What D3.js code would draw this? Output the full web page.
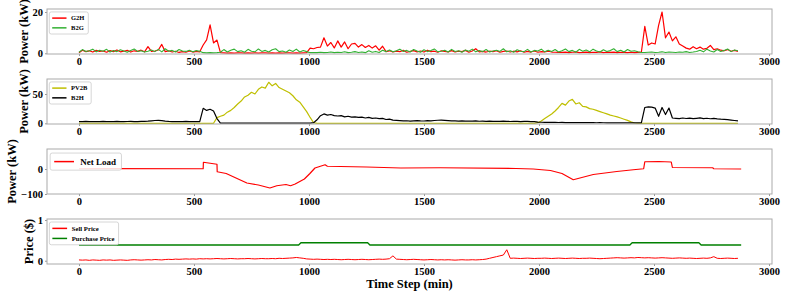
<!DOCTYPE html>
<html>
<head>
<meta charset="utf-8">
<script src="https://cdn.jsdelivr.net/npm/d3@7"></script>
<style>
body { margin: 0; background: #fff; }
text { font-family: "Liberation Serif", "Times New Roman", serif; font-weight: bold; }
</style>
</head>
<body>
<div id="chart"></div>
<script>
// sampling step of the noisy series (min)
var step = 15;

// grid to home / battery to grid (kW), one value every 15 min
var g2h = [0.3,1.5,0.8,1.2,0.6,1.4,0.9,1.1,0.5,1.3, 0.8,1.6,0.7,1.0,1.4,0.6,1.2,0.9,1.5,0.7,
  3.2,0.9,1.1,1.6,4.3,0.8,1.2,0.6,1.0,0.4, 0.8,0.5,1.1,0.6,0.9,0.7,
  4.0,6.5,13.8,5.0,6.4,0.3,
  0.2,0.1,0.2,0.1,0.2,0.2,0.1,0.2,0.1,0.2,0.1,0.2,0.2,0.1,0.2,0.1,0.2,0.1,0.2,0.2,0.1,0.2,0.1,0.2,0.3,
  2.5,2.2,2.8,3.0,7.5,3.5,5.2,2.6,6.0,3.0,5.5,2.2,4.5,4.8,3.0,4.2,2.8,3.8,2.5,3.6,1.5,3.4,0.8,
  1.2,0.6,1.0,0.8,1.4,0.5,0.9,1.3,0.7,1.1, 0.6,1.5,0.8,1.0,0.5,1.2,0.9,0.7,1.3,0.6,
  1.0,0.8,1.4,0.5,1.1,2.2,0.7,0.9,0.6,1.0, 0.8,1.3,0.5,0.9,1.1,0.6,1.0,0.7,1.2,0.5,
  0.9,0.6,1.1,0.5,0.8,0.7,1.0,0.6,0.5,0.4, 0.4,0.6,0.3,0.5,0.7,0.3,0.4,0.6,0.3,0.5,
  0.4,0.7,0.3,0.5,0.4,0.6,0.3,0.5,0.4,0.3, 0.5,0.3,0.4,0.5,
  13.0,4.0,5.0,4.5,13.5,20.0,7.5,10.3,6.0,8.0, 4.5,3.5,2.5,2.0,3.2,2.2,3.0,2.0,2.4,3.8,
  1.8,2.2,1.5,1.2,1.8,1.0,1.4,0.9];

var b2g = [0.5,1.8,0.9,1.2,2.0,0.7,1.5,1.0,1.9,0.6,1.3,0.8,1.7,1.1,0.5,1.4,2.1,0.9,1.2,0.6,
  1.0,1.6,0.8,1.9,0.7,2.2,1.0,1.4,0.6,1.8,1.1,0.9,1.5,0.7,1.3,1.0,
  0.3,0.2,0.3,0.2,0.3,0.5,
  1.8,0.6,1.5,2.0,0.8,1.2,0.5,1.9,1.0,0.7,2.1,0.9,1.4,0.6,1.7,2.2,0.8,1.1,0.5,1.6,0.9,2.0,0.6,1.3,0.8,
  0.3,0.4,0.3,0.5,0.3,0.4,0.6,0.3,0.5,0.4,0.7,0.3,0.5,0.8,0.4,0.6,0.3,1.2,0.5,0.9,0.4,1.5,0.8,
  1.6,0.7,1.2,2.0,0.9,1.4,0.6,1.8,1.1,0.5, 1.7,0.8,1.3,2.1,0.7,1.0,1.5,0.6,1.9,0.9,
  1.2,0.5,1.6,1.0,2.0,0.7,1.3,0.8,1.8,0.6, 1.1,1.5,0.9,2.2,0.7,1.2,0.5,1.7,1.0,0.8,
  1.9,0.6,1.4,1.1,2.0,0.7,1.5,0.9,1.8,0.6, 1.2,2.1,0.8,1.4,0.5,1.9,1.0,1.6,0.7,2.0,
  1.1,0.6,1.7,0.9,1.3,2.2,0.8,1.5,0.6,1.8, 1.0,1.2,0.7,0.4,
  0.4,0.5,0.6,0.4,0.5,0.7,0.4,0.6,0.5,0.4,0.6,0.5,0.8,0.4,0.6,0.9,
  1.5,0.7,2.0,1.1,0.6,1.8,0.9,1.4,2.1,0.8,1.6,1.2];

// PV to battery / battery to home (kW)
var pv2b = [0,0,0,0,0,0,0,0,0,0, 0,0,0,0,0,0,0,0,0,0, 0,0,0,0,0,0,0,0,0,0, 0,0,0,0,0,0,0,0,0,0,
  9.6,12,14,19,22,27,33,38,45,48, 53,50,58,62,60,70,64,68,61,58, 55,52,47,40,36,28,20,10,1,
  0,0,0,0,0,0,0,0,0,0, 0,0,0,0,0,0,0,0,0,0, 0,0,0,0,0,0,0,0,0,0, 0,0,0,0,0,0,0,0,0,0,
  0,0,0,0,0,0,0,0,0,0, 0,0,0,0,0,0,0,0,0,0, 0,0,0,0,
  1,4,8,12,16,21,27,34,31,38, 41,33,35,29,28,25,24,22,20,18, 16,14,12.5,11,9,7,5,2.5,0.5,
  0,0,0,0,0,0,0,0,0,0, 0,0,0,0,0,0,0,0,0,0, 0,0,0,0,0,0,0,0,0,0];

var b2h = [3,2.8,3.2,2.9,3.1,2.7,3.0,3.3,2.8,3.1, 2.9,3.2,3.0,2.8,3.1,3.3,3.0,2.9,3.2,3.4,
  3.6,4.2,4.8,5.0,4.6,3.8,3.2,2.9,3.1,2.8, 3.0,3.2,2.9,3.1,3.0,2.9,
  25.5,22,24,21,8,
  0.2,0.2,0.2,0.2,0.2,0.2,0.2,0.2,0.2,0.2,0.2,0.2,0.2,0.2,0.2,0.2,0.2,0.2,0.2,0.2,0.2,0.2,0.2,0.2,0.2,0.2,0.2,
  1,6,13,16,14,15,13,12.5,13,11, 12,10.5,11,10,10.5,9,10,8.5,9,8, 8.5,6.5,7,5.5,5,
  4.5,4.0,4.3,3.8,4.2,4.6,4.0,3.9,4.4,4.1, 4.8,5.2,5.5,5.0,4.6,4.2,4.0,3.8,4.1,3.7,
  3.9,3.6,4.0,3.5,3.8,3.4,3.6,3.3,3.5,3.2, 3.6,3.4,3.1,3.5,3.3,3.0,3.4,3.2,3.0,2.8,
  2.0,1.8,1.6,1.7,1.5,1.6,1.4,1.5,1.3,1.4, 1.2,1.3,1.1,1.2,1.0,1.1,1.0,0.9,1.0,0.9,
  0.8,0.9,0.8,0.9,0.8,0.7,0.8,0.7,0.8,0.7, 0.8,
  27,28,27.5,26,12,27,15,26,9,8.5, 8,9,8.2,8.8,7.9,8.5,9.2,8.0,8.6,7.8, 8.3,7.5,7.0,6.8,6.2,5.5,4.8,4.0];

// net load (kW): [time step, value] break points
var netLoad = [[0,1],[120,1.5],[540,1],[541,27],[600,19],[601,-11],[640,-18],[730,-56],[780,-64],
  [830,-76],[860,-67],[900,-62],[920,-67],[940,-60],[980,-40],[1004,-18],[1010,-12],[1026,4],
  [1070,17],[1080,11],[1250,8],[1400,4],[1570,5],[1900,2],[1975,0],[2050,-6],[2100,-18],
  [2149,-43],[2236,-22],[2338,-10],[2410,-3],[2455,1],[2460,29],[2520,30],[2575,28],[2580,6],
  [2755,5],[2760,1],[2879,0]];

// prices ($)
var sellPrice = [0.02,0.015,0.02,0.01,0.02,0.015,0.01,0.02,0.015,0.02, 0.01,0.015,0.02,0.015,0.01,0.02,0.025,0.02,0.015,0.02,
  0.025,0.02,0.03,0.025,0.02,0.03,0.035,0.03,0.04,0.035, 0.04,0.045,0.04,0.045,0.04,0.05,
  0.045,0.05,0.045,0.05,0.055,0.05,0.045,0.05,0.055,0.05, 0.045,0.05,0.05,0.055,0.05,0.045,0.05,0.055,0.05,0.05,
  0.055,0.05,0.06,0.055,0.06,0.065,0.07,
  0.08,0.07,0.06,
  0.045,0.04,0.035,0.04,0.035,0.03,0.035,0.03,0.035,0.03, 0.025,0.03,0.035,0.03,0.025,0.03,0.035,0.03,0.025,0.03,
  0.035,0.04,0.035,0.04,
  0.05,0.12,0.04,
  0.035,0.03,0.025,0.03,0.035,0.03,0.025,0.02,0.025,0.03, 0.025,0.02,0.025,0.02,0.025,0.02,0.015,0.02,0.025,0.02,
  0.02,0.025,0.02,0.025,0.03,
  0.04,0.06,0.08,0.1,0.12,0.14,
  0.27,
  0.06,0.065,0.06,0.055,0.06,0.065,0.06,0.055,0.06,0.06, 0.065,0.06,0.055,0.06,0.065,0.06,0.055,0.06,0.065,0.06,
  0.055,0.06,0.06,0.065,0.06,0.055,0.05,0.055,0.06,0.065, 0.07,0.075,0.07,0.065,0.07,0.075,0.07,0.08,0.075,0.07,
  0.075,0.07,0.065,0.07,0.075,0.07,0.065,0.06,0.065,0.07, 0.065,0.06,0.065,0.06,0.055,0.06,0.065,0.06,0.07,0.1,
  0.06,0.055,0.06,0.065,0.06,0.055,0.06];

var purchasePrice = [[0,0.386],[955,0.386],[965,0.44],[1255,0.44],[1265,0.386],[2395,0.386],
  [2405,0.44],[2695,0.44],[2705,0.386],[2879,0.386]];

var xTicks = [0, 500, 1000, 1500, 2000, 2500, 3000];

function sampled(arr) {
  return arr.map(function(v, i) { return [i * step, v]; });
}

var W = 789, H = 299;
var margin = {left: 47, right: 17};
var panelH = 45;
var serif = '"Liberation Serif", "Times New Roman", serif';

var svg = d3.select("#chart").append("svg")
    .attr("width", W)
    .attr("height", H);

// shared x scale
var x = d3.scaleLinear()
    .domain([-139, 3013])
    .range([margin.left, W - margin.right]);

var panels = [
  {top: 9, domain: [-0.35, 21.45], yTicks: [0, 20], label: "Power (kW)", legendSize: 6.5,
   series: [{name: "G2H", data: sampled(g2h), color: "#ff0000", w: 1.2},
            {name: "B2G", data: sampled(b2g), color: "#33b033", w: 1.1}]},
  {top: 79, domain: [-1.2, 75.6], yTicks: [0, 50], label: "Power (kW)", legendSize: 6.5,
   series: [{name: "PV2B", data: sampled(pv2b), color: "#bfbf00", w: 1.2},
            {name: "B2H", data: sampled(b2h), color: "#000000", w: 1.2}]},
  {top: 149, domain: [-100, 80], yTicks: [-100, 0], label: "Power (kW)", legendSize: 9,
   series: [{name: "Net Load", data: netLoad, color: "#ff0000", w: 1.2}]},
  {top: 219, domain: [-0.08, 1.025], yTicks: [0, 1], label: "Price ($)", legendSize: 6.7,
   series: [{name: "Sell Price", data: sampled(sellPrice), color: "#ff0000", w: 1},
            {name: "Purchase Price", data: purchasePrice, color: "#008000", w: 1.4}]}
];

var fmt = function(d) { return d3.format("d")(d).replace("-", "\u2212"); };

panels.forEach(function(p) {
  var y = d3.scaleLinear()
      .domain(p.domain)
      .range([p.top + panelH, p.top]);

  var g = svg.append("g");

  // x axis
  var xa = g.append("g")
      .attr("transform", "translate(0," + (p.top + panelH) + ")")
      .call(d3.axisBottom(x).tickValues(xTicks).tickFormat(fmt).tickSize(2).tickPadding(2));
  // y axis
  var ya = g.append("g")
      .attr("transform", "translate(" + margin.left + ",0)")
      .call(d3.axisLeft(y).tickValues(p.yTicks).tickFormat(fmt).tickSize(2).tickPadding(2));

  [xa, ya].forEach(function(a) {
    a.attr("font-family", serif).attr("font-size", 10);
    a.select(".domain").remove();
    a.selectAll("line").attr("stroke", "#999");
    a.selectAll("text")
        .style("font-family", serif)
        .style("font-size", "10.5px")
        .style("font-weight", "bold")
        .attr("fill", "#000");
  });

  // lines
  var line = d3.line()
      .x(function(d) { return x(d[0]); })
      .y(function(d) { return y(d[1]); });
  p.series.forEach(function(s) {
    g.append("path")
        .datum(s.data)
        .attr("fill", "none")
        .attr("stroke", s.color)
        .attr("stroke-width", s.w)
        .attr("stroke-linejoin", "round")
        .attr("d", line);
  });

  // frame
  g.append("rect")
      .attr("x", margin.left)
      .attr("y", p.top)
      .attr("width", W - margin.right - margin.left)
      .attr("height", panelH)
      .attr("fill", "none")
      .attr("stroke", "#aaa")
      .attr("stroke-width", 1);

  // y label, left of the tick labels
  var bb = ya.node().getBBox();
  g.append("text")
      .attr("transform", "translate(" + (margin.left + bb.x - 5) + "," + (p.top + panelH / 2) + ") rotate(-90)")
      .attr("text-anchor", "middle")
      .style("font-size", "12.5px")
      .text(p.label);

  // legend (upper left)
  var fs = p.legendSize;
  var lg = g.append("g")
      .attr("transform", "translate(" + (margin.left + fs * 0.35) + "," + (p.top + fs * 0.45) + ")");
  var box = lg.append("rect")
      .attr("fill", "#fff")
      .attr("fill-opacity", 0.85)
      .attr("stroke", "#ccc")
      .attr("stroke-width", 0.8)
      .attr("rx", 2);
  var rowH = fs * 1.5;
  var maxW = 0;
  p.series.forEach(function(s, i) {
    var cy = fs * 0.95 + i * rowH;
    lg.append("line")
        .attr("x1", fs * 0.45).attr("x2", fs * 0.45 + fs * 2.2)
        .attr("y1", cy).attr("y2", cy)
        .attr("stroke", s.color)
        .attr("stroke-width", 1.5);
    var t = lg.append("text")
        .attr("x", fs * 0.45 + fs * 2.9)
        .attr("y", cy)
        .attr("dy", "0.33em")
        .style("font-size", fs + "px")
        .text(s.name);
    maxW = Math.max(maxW, t.node().getComputedTextLength());
  });
  box.attr("width", fs * 3.35 + maxW + fs * 0.6)
     .attr("height", fs * 0.95 * 2 + (p.series.length - 1) * rowH);
});

// x label
svg.append("text")
    .attr("x", (margin.left + W - margin.right) / 2)
    .attr("y", 219 + panelH + 23.5)
    .attr("text-anchor", "middle")
    .style("font-size", "12.5px")
    .text("Time Step (min)");
</script>
</body>
</html>
